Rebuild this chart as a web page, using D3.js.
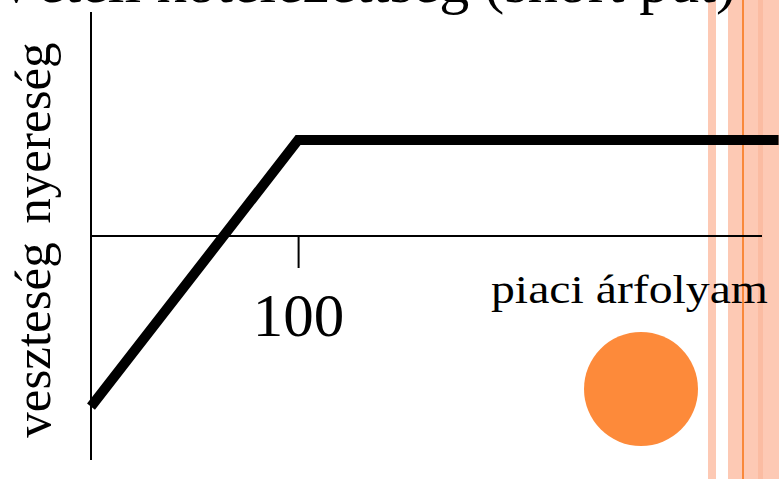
<!DOCTYPE html>
<html>
<head>
<meta charset="utf-8">
<script src="https://cdn.jsdelivr.net/npm/d3@7"></script>
<style>
  body { margin: 0; background: #fff; }
  svg text { font-family: "Times New Roman", Times, "Liberation Serif", Tinos, serif; }
</style>
</head>
<body>
<svg id="chart"></svg>
<script>
// payoff of a short put (strike 100)
var prices = [50, 100, 216];
var payoffs = [-32, 18, 18];
var strikeTicks = [100];
var xLabel = "piaci árfolyam";
var yLabels = ["veszteség", "nyereség"];
var title = "Vételi kötelezettség (short put)";

var width = 779, height = 479;

var svg = d3.select("#chart")
    .attr("width", width)
    .attr("height", height)
    .style("display", "block");

// scales
var x = d3.scaleLinear().domain([50, 212]).range([91, 762]);
var y = d3.scaleLinear().domain([-42, 42]).range([460, 12]);

// decorative stripes on the right edge of the slide
svg.append("rect").attr("x", 708).attr("y", 0).attr("width", 8).attr("height", height).attr("fill", "#fdc9b4");
svg.append("rect").attr("x", 728).attr("y", 0).attr("width", 51).attr("height", height).attr("fill", "#fdc9b4");
svg.append("rect").attr("x", 758).attr("y", 0).attr("width", 5).attr("height", height).attr("fill", "#fbbca2");
svg.append("rect").attr("x", 742).attr("y", 0).attr("width", 2).attr("height", height).attr("fill", "#f9883a");

// title, cut off at the top of the slide crop
svg.append("text")
    .attr("x", 736)
    .attr("y", 2)
    .attr("text-anchor", "end")
    .style("font-size", "60px")
    .text(title);

// y axis (no ticks)
svg.append("line")
    .attr("x1", x(50)).attr("x2", x(50))
    .attr("y1", y(42)).attr("y2", y(-42))
    .attr("stroke", "#000").attr("stroke-width", 2);

// x axis at zero payoff
var xAxis = d3.axisBottom(x)
    .tickValues(strikeTicks)
    .tickSize(32)
    .tickFormat(d3.format("d"));

var gx = svg.append("g")
    .attr("transform", "translate(0," + y(0) + ")")
    .call(xAxis);
gx.attr("font-family", null);
gx.select(".domain").attr("d", "M" + x(50) + ",0H" + x(212)).attr("stroke-width", 2);
gx.selectAll(".tick line").attr("stroke-width", 2);
gx.selectAll(".tick text")
    .attr("y", 100)
    .attr("dy", 0)
    .attr("fill", "#000")
    .style("font-size", "61px");

// payoff line
var line = d3.line()
    .x(function(d, i) { return x(prices[i]); })
    .y(function(d) { return y(d); });

svg.append("path")
    .attr("d", line(payoffs))
    .attr("fill", "none")
    .attr("stroke", "#000")
    .attr("stroke-width", 10)
    .attr("stroke-linejoin", "miter");

// x label
svg.append("text")
    .attr("x", 491)
    .attr("y", 303)
    .attr("textLength", 277)
    .attr("lengthAdjust", "spacingAndGlyphs")
    .style("font-size", "39px")
    .text(xLabel);

// y labels, rotated
svg.append("text")
    .attr("transform", "translate(50," + 340 + ") rotate(-90)")
    .attr("text-anchor", "middle")
    .style("font-size", "51px")
    .text(yLabels[0]);

svg.append("text")
    .attr("transform", "translate(50," + 133 + ") rotate(-90)")
    .attr("text-anchor", "middle")
    .style("font-size", "51px")
    .text(yLabels[1]);

// orange bullet
svg.append("circle")
    .attr("cx", 641)
    .attr("cy", 389)
    .attr("r", 57)
    .attr("fill", "#fd8a3a");
</script>
</body>
</html>
